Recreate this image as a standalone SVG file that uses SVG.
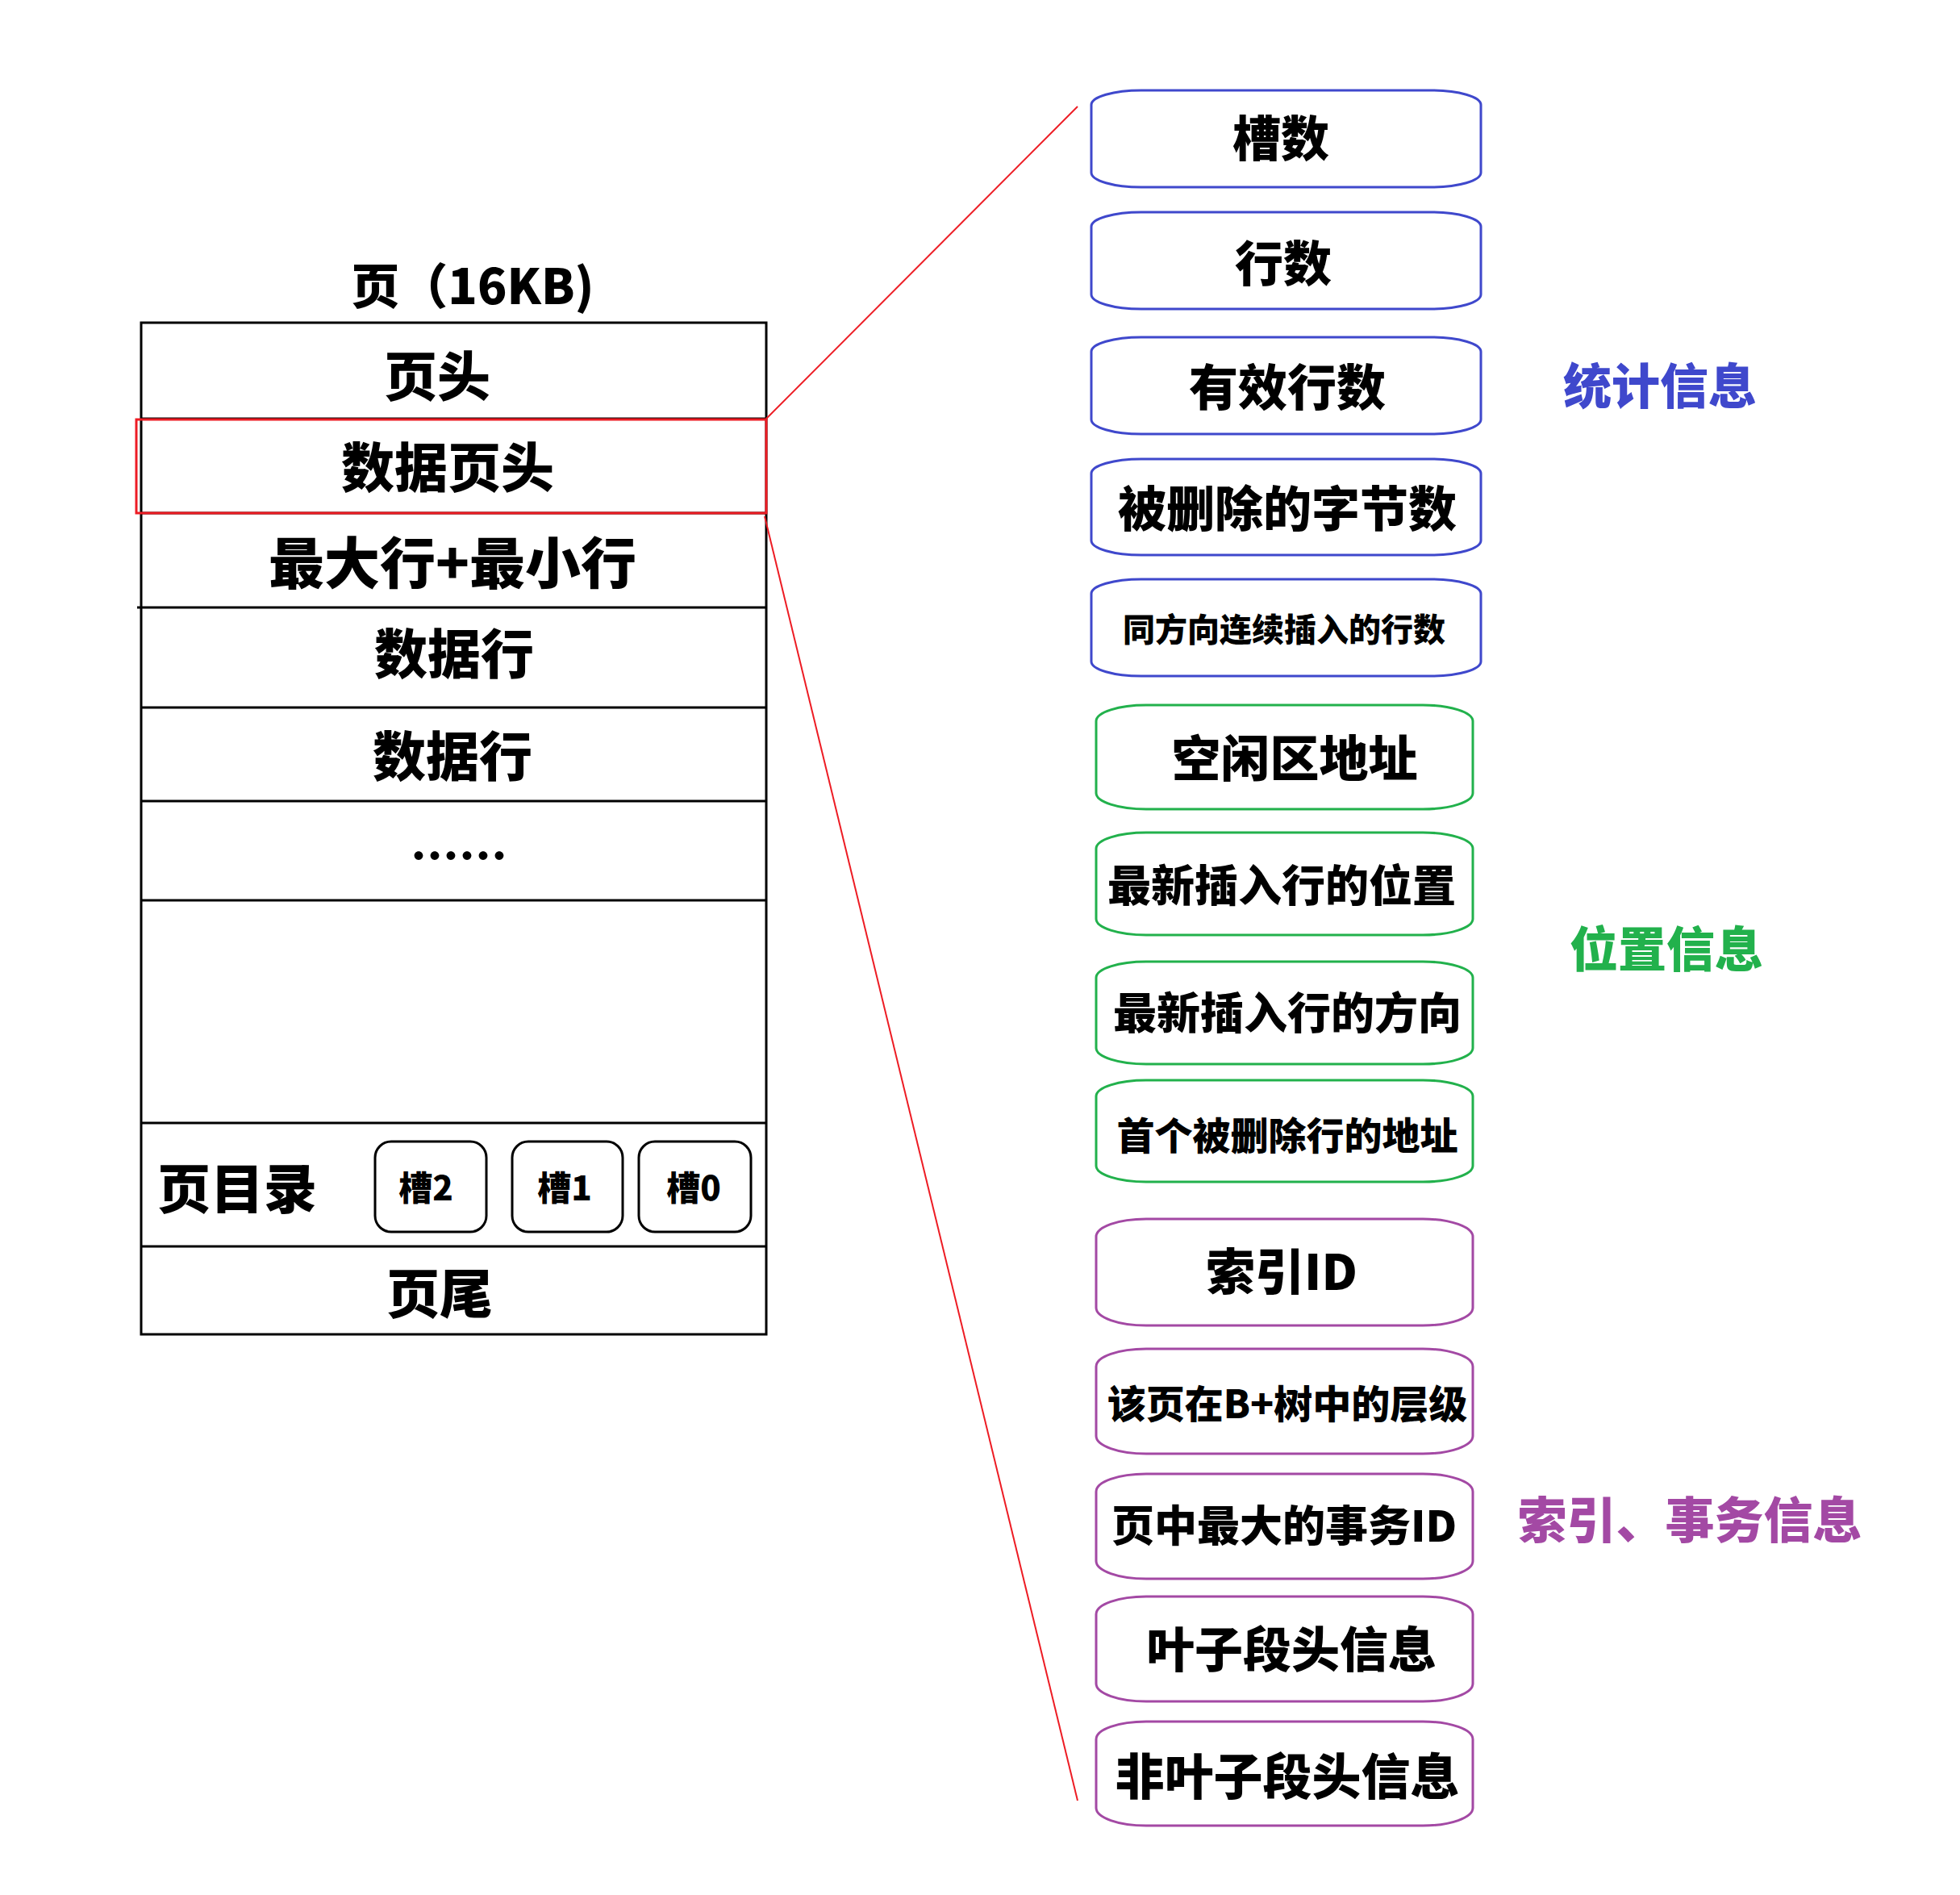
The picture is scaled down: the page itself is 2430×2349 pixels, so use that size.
<svg xmlns="http://www.w3.org/2000/svg" width="2430" height="2349" viewBox="0 0 2430 2349">
<style>
text{font-family:"Noto Sans CJK SC","Microsoft YaHei",sans-serif;font-weight:900;text-anchor:middle;dominant-baseline:central;fill:#000}
.row{fill:none;stroke:#000;stroke-width:3}
.slot{fill:#fff;stroke:#000;stroke-width:3}
.nb{fill:#fff;stroke:#3f48cc;stroke-width:3}
.ng{fill:#fff;stroke:#22b14c;stroke-width:3}
.np{fill:#fff;stroke:#a349a4;stroke-width:3}
.L{font-size:66px}
.N{font-size:58px}
.S{font-size:42px}
.conn{stroke:#ed1c24;stroke-width:2;fill:none}
</style>
<rect width="2430" height="2349" fill="#fff"/>

<g id="page">
<text x="586" y="350" style="font-size:60px">页（16KB)</text>
<rect class="row" x="175" y="400" width="775" height="1254"/>
<line class="row" x1="175" y1="519" x2="950" y2="519"/>
<line class="row" x1="175" y1="636" x2="950" y2="636"/>
<line class="row" x1="170" y1="753" x2="950" y2="753"/>
<line class="row" x1="175" y1="877" x2="950" y2="877"/>
<line class="row" x1="175" y1="993" x2="950" y2="993"/>
<line class="row" x1="175" y1="1116" x2="950" y2="1116"/>
<line class="row" x1="175" y1="1392" x2="950" y2="1392"/>
<line class="row" x1="175" y1="1545" x2="950" y2="1545"/>
</g>
<g id="page-header"><text class="L" x="542" y="462">页头</text></g>
<g id="data-page-header">
<rect x="169" y="520" width="781" height="116" fill="none" stroke="#ed1c24" stroke-width="3"/>
<text class="L" x="555" y="575">数据页头</text>
</g>
<g id="max-min"><text class="L" x="561" y="694" style="font-size:69px">最大行+最小行</text></g>
<g id="row1"><text class="L" x="563" y="806">数据行</text></g>
<g id="row2"><text class="L" x="561" y="933">数据行</text></g>
<g id="dots"><text x="569" y="1057" style="font-size:60px">……</text></g>
<g id="page-dir">
<text class="L" x="294" y="1469">页目录</text>
<g id="slot2"><rect class="slot" x="465" y="1415" width="138" height="112" rx="20"/><text class="S" x="528" y="1469">槽2</text></g>
<g id="slot1"><rect class="slot" x="635" y="1415" width="137" height="112" rx="20"/><text class="S" x="700" y="1469">槽1</text></g>
<g id="slot0"><rect class="slot" x="792" y="1415" width="139" height="112" rx="20"/><text class="S" x="860" y="1469">槽0</text></g>
</g>
<g id="page-tail"><text class="L" x="545" y="1599">页尾</text></g>

<g id="connectors">
<line class="conn" x1="950" y1="519" x2="1336" y2="132"/>
<line class="conn" x1="948" y1="640" x2="1336" y2="2232"/>
</g>

<g id="n1"><rect class="nb" x="1353" y="112" width="483" height="120" rx="62" ry="18"/><text class="N" x="1588" y="167" style="font-size:60px">槽数</text></g>
<g id="n2"><rect class="nb" x="1353" y="263" width="483" height="120" rx="62" ry="18"/><text class="N" x="1591" y="322" style="font-size:60px">行数</text></g>
<g id="n3"><rect class="nb" x="1353" y="418" width="483" height="120" rx="62" ry="18"/><text class="N" x="1596" y="476" style="font-size:61px">有效行数</text></g>
<g id="n4"><rect class="nb" x="1353" y="569" width="483" height="119" rx="62" ry="18"/><text class="N" x="1596" y="626" style="font-size:60px">被删除的字节数</text></g>
<g id="n5"><rect class="nb" x="1353" y="718" width="483" height="120" rx="62" ry="18"/><text x="1592" y="778" style="font-size:40px">同方向连续插入的行数</text></g>

<g id="n6"><rect class="ng" x="1359" y="874" width="467" height="129" rx="62" ry="20"/><text x="1605" y="936" style="font-size:61px">空闲区地址</text></g>
<g id="n7"><rect class="ng" x="1359" y="1032" width="467" height="127" rx="62" ry="20"/><text x="1589" y="1094" style="font-size:54px">最新插入行的位置</text></g>
<g id="n8"><rect class="ng" x="1359" y="1192" width="467" height="127" rx="62" ry="20"/><text x="1596" y="1252" style="font-size:54px">最新插入行的方向</text></g>
<g id="n9"><rect class="ng" x="1359" y="1339" width="467" height="126" rx="62" ry="20"/><text x="1596" y="1404" style="font-size:47px">首个被删除行的地址</text></g>

<g id="n10"><rect class="np" x="1359" y="1511" width="467" height="132" rx="62" ry="22"/><text x="1589" y="1572" style="font-size:61px">索引ID</text></g>
<g id="n11"><rect class="np" x="1359" y="1672" width="467" height="130" rx="62" ry="22"/><text x="1596" y="1737" style="font-size:48px">该页在B+树中的层级</text></g>
<g id="n12"><rect class="np" x="1359" y="1827" width="467" height="130" rx="62" ry="22"/><text x="1592" y="1888" style="font-size:53px">页中最大的事务ID</text></g>
<g id="n13"><rect class="np" x="1359" y="1979" width="467" height="130" rx="62" ry="22"/><text x="1601" y="2040" style="font-size:60px">叶子段头信息</text></g>
<g id="n14"><rect class="np" x="1359" y="2134" width="467" height="129" rx="62" ry="22"/><text x="1596" y="2198" style="font-size:61px">非叶子段头信息</text></g>

<g id="labels">
<text x="2058" y="474" style="font-size:60px;fill:#3f48cc">统计信息</text>
<text x="2066" y="1172" style="font-size:60px;fill:#22b14c">位置信息</text>
<text x="2095" y="1880" style="font-size:61px;fill:#a349a4">索引、事务信息</text>
</g>
</svg>
